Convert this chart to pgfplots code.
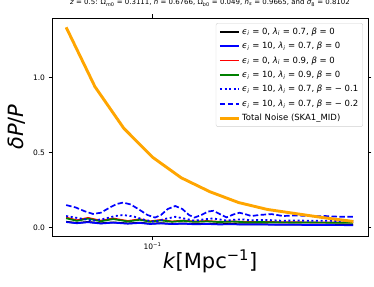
\documentclass[border=0pt]{standalone}
\usepackage{fontspec}
\setmainfont{DejaVu Sans}
\usepackage{pgfplots}
\pgfplotsset{compat=1.18}
\definecolor{mplgreen}{HTML}{008000}
\definecolor{mplorange}{HTML}{FFA500}
\newcommand{\ii}[1]{\textit{#1}}
\begin{document}
\begin{tikzpicture}
\begin{semilogxaxis}[
  scale only axis, width=316pt, height=218pt,
  xmin=0.04463, xmax=0.5635, ymin=-0.055, ymax=1.398,
  tick align=outside, major tick length=3.5pt, minor tick length=2pt,
  tick style={black, line width=0.6pt},
  axis line style={line width=0.7pt},
  xtick={0.1}, xticklabels={10\textsuperscript{−1}},
  ytick={0,0.5,1.0},
  yticklabel style={/pgf/number format/.cd, fixed, fixed zerofill, precision=1, assume math mode=true},
  ticklabel style={font=\fontsize{7.5}{9}\selectfont},
  xlabel={\ii{k}[Mpc\textsuperscript{−1}]},
  ylabel={\ii{δP}/\ii{P}},
  label style={font=\fontsize{21}{24}\selectfont},
  xlabel style={at={(axis description cs:0.5,-0.115)}, anchor=center},
  ylabel style={at={(axis description cs:-0.111,0.5)}, anchor=center},
  title={\ii{z} = 0.5: Ω\textsubscript{\ii{m}0} = 0.3111, \ii{h} = 0.6766, Ω\textsubscript{\ii{b}0} = 0.049, \ii{n}\textsubscript{\ii{s}} = 0.9665, and \ii{σ}\textsubscript{8} = 0.8102},
  title style={font=\fontsize{7}{8}\selectfont, at={(axis description cs:0.5,1.041)}, anchor=center},
  legend style={at={(axis description cs:0.984,0.977)}, anchor=north east, draw=black!18, rounded corners=2pt, font=\fontsize{8.5}{10}\selectfont, row sep=2.4pt, inner sep=2.5pt},
  legend image post style={xscale=1.1},
  legend cell align=left,
]
\addplot[black, line width=1.7pt] coordinates {
(0.0500,0.040)(0.0545,0.032)(0.0596,0.039)(0.0660,0.030)(0.0729,0.036)(0.0820,0.029)(0.0903,0.034)(0.0980,0.027)(0.1070,0.031)(0.1170,0.026)(0.1280,0.029)(0.1400,0.025)(0.1550,0.027)(0.1700,0.024)(0.1900,0.025)(0.2100,0.023)(0.2400,0.023)(0.2800,0.022)(0.3300,0.021)(0.4000,0.020)(0.5000,0.019)};
\addlegendentry{\ii{ϵ}\textsubscript{\ii{i}} = 0, \ii{λ}\textsubscript{\ii{i}} = 0.7, \ii{β} = 0}
\addplot[blue, line width=1.7pt] coordinates {
(0.0500,0.038)(0.0545,0.030)(0.0596,0.037)(0.0660,0.028)(0.0729,0.034)(0.0820,0.027)(0.0903,0.032)(0.0980,0.025)(0.1070,0.029)(0.1170,0.024)(0.1280,0.027)(0.1400,0.023)(0.1550,0.025)(0.1700,0.022)(0.1900,0.023)(0.2100,0.021)(0.2400,0.021)(0.2800,0.020)(0.3300,0.019)(0.4000,0.018)(0.5000,0.017)};
\addlegendentry{\ii{ϵ}\textsubscript{\ii{i}} = 10, \ii{λ}\textsubscript{\ii{i}} = 0.7, \ii{β} = 0}
\addplot[red, line width=1.7pt] coordinates {
(0.0500,0.068)(0.0545,0.050)(0.0596,0.066)(0.0660,0.047)(0.0729,0.062)(0.0820,0.045)(0.0903,0.057)(0.0980,0.043)(0.1070,0.052)(0.1170,0.042)(0.1280,0.048)(0.1400,0.041)(0.1550,0.045)(0.1700,0.040)(0.1900,0.042)(0.2100,0.039)(0.2400,0.039)(0.2800,0.037)(0.3300,0.036)(0.4000,0.035)(0.5000,0.034)};
\addlegendentry{\ii{ϵ}\textsubscript{\ii{i}} = 0, \ii{λ}\textsubscript{\ii{i}} = 0.9, \ii{β} = 0}
\addplot[mplgreen, line width=1.7pt] coordinates {
(0.0500,0.063)(0.0545,0.046)(0.0596,0.061)(0.0660,0.043)(0.0729,0.058)(0.0820,0.042)(0.0903,0.053)(0.0980,0.040)(0.1070,0.049)(0.1170,0.040)(0.1280,0.046)(0.1400,0.039)(0.1550,0.043)(0.1700,0.038)(0.1900,0.041)(0.2100,0.037)(0.2400,0.038)(0.2800,0.036)(0.3300,0.035)(0.4000,0.034)(0.5000,0.033)};
\addlegendentry{\ii{ϵ}\textsubscript{\ii{i}} = 10, \ii{λ}\textsubscript{\ii{i}} = 0.9, \ii{β} = 0}
\addplot[blue, line width=1.8pt, dash pattern=on 2pt off 2.6pt] coordinates {
(0.050,0.078)(0.056,0.062)(0.062,0.047)(0.068,0.060)(0.074,0.078)(0.079,0.085)(0.086,0.075)(0.094,0.052)(0.102,0.040)(0.110,0.058)(0.120,0.073)(0.130,0.060)(0.140,0.047)(0.150,0.055)(0.162,0.062)(0.172,0.055)(0.181,0.048)(0.195,0.054)(0.205,0.056)(0.220,0.050)(0.250,0.052)(0.280,0.047)(0.320,0.048)(0.370,0.046)(0.420,0.046)(0.500,0.045)};
\addlegendentry{\ii{ϵ}\textsubscript{\ii{i}} = 10, \ii{λ}\textsubscript{\ii{i}} = 0.7, \ii{β} = − 0.1}
\addplot[blue, line width=1.7pt, dash pattern=on 5.5pt off 2.4pt] coordinates {
(0.050,0.151)(0.054,0.135)(0.058,0.110)(0.062,0.092)(0.066,0.100)(0.071,0.135)(0.075,0.158)(0.079,0.168)(0.084,0.155)(0.090,0.120)(0.096,0.085)(0.102,0.068)(0.107,0.085)(0.113,0.125)(0.120,0.145)(0.127,0.125)(0.134,0.085)(0.140,0.068)(0.148,0.085)(0.156,0.108)(0.163,0.113)(0.172,0.090)(0.181,0.069)(0.191,0.088)(0.201,0.100)(0.211,0.090)(0.221,0.078)(0.235,0.085)(0.260,0.091)(0.285,0.078)(0.310,0.082)(0.340,0.080)(0.370,0.076)(0.400,0.078)(0.440,0.074)(0.500,0.073)};
\addlegendentry{\ii{ϵ}\textsubscript{\ii{i}} = 10, \ii{λ}\textsubscript{\ii{i}} = 0.7, \ii{β} = − 0.2}
\addplot[mplorange, line width=2.9pt] coordinates {
(0.0500,1.336)(0.0630,0.940)(0.0794,0.663)(0.1000,0.470)(0.1259,0.333)(0.1585,0.240)(0.1995,0.168)(0.2512,0.122)(0.3162,0.094)(0.3981,0.066)(0.5012,0.042)};
\addlegendentry{Total Noise (SKA1\_MID)}
\end{semilogxaxis}
\pgfresetboundingbox
\path[use as bounding box] ([xshift=-52pt,yshift=-50pt]current axis.south west) rectangle ([xshift=6pt,yshift=18pt]current axis.north east);
\end{tikzpicture}
\end{document}
